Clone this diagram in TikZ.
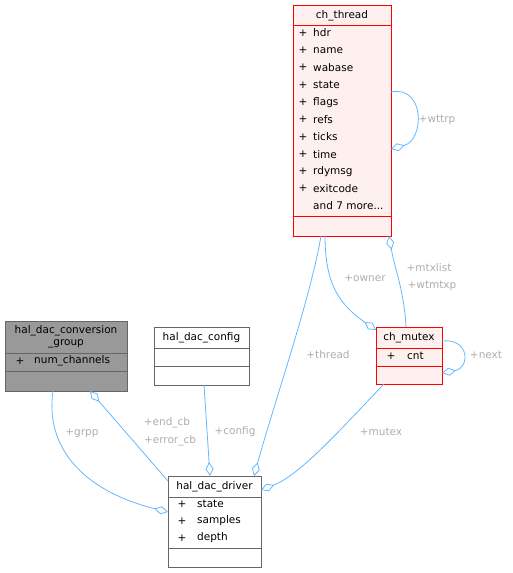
\documentclass[tikz,border=0pt]{standalone}
\usepackage{fontspec}
\setmainfont{DejaVu Sans}
\usetikzlibrary{arrows.meta}
\definecolor{edgeblue}{HTML}{63B8FF}
\definecolor{lblgray}{HTML}{ADADAD}
\definecolor{boxgray}{HTML}{666666}
\definecolor{pinkfill}{HTML}{FFF0F0}
\definecolor{darkfill}{HTML}{999999}
\tikzset{
  every node/.style={font=\fontsize{10.5}{12}\selectfont, inner sep=0pt},
  plainbox/.style={draw=boxgray, fill=white, line width=0.9pt},
  redbox/.style={draw=red, fill=pinkfill, line width=0.9pt},
  greybox/.style={draw=boxgray, fill=darkfill, line width=0.9pt},
  sepline/.style={line width=0.9pt},
  edge/.style={draw=edgeblue, line width=0.8pt},
  dia/.style={edge, {Diamond[open, fill=white, length=14pt, width=8pt]}-},
  lbl/.style={text=lblgray},
}
\begin{document}
\begin{tikzpicture}[x=1pt,y=-1pt]
\useasboundingbox (0,0) rectangle (512,573);

% ---------- ch_thread ----------
\node[redbox, minimum width=98pt, minimum height=231pt] (thr) at (342,120.5) {};
\draw[sepline, red] (293,25.5) -- (391,25.5);
\draw[sepline, red] (293,216.5) -- (391,216.5);
\node (thrt) at (342,15.5) {ch\_thread};
\foreach \n [count=\i] in {hdr,name,wabase,state,flags,refs,ticks,time,rdymsg,exitcode}{
  \node (thrp\i) at (303,33+17.3*\i-17.3) {+};
  \node[anchor=west] (thrn\i) at (313,33+17.3*\i-17.3) {\n};
}
\node[anchor=west] (thrmore) at (313,206) {and 7 more...};

% ---------- hal_dac_conversion_group ----------
\node[greybox, minimum width=122pt, minimum height=70pt] (grp) at (66,356) {};
\draw[sepline, boxgray] (5,353) -- (127,353);
\draw[sepline, boxgray] (5,371) -- (127,371);
\node (grpt1) at (66,331) {hal\_dac\_conversion};
\node (grpt2) at (66,343.5) {\_group};
\node (grpp) at (20,361) {+};
\node[anchor=west] (grpn) at (34,361) {num\_channels};

% ---------- hal_dac_config ----------
\node[plainbox, minimum width=95pt, minimum height=58pt] (cfg) at (201.5,356) {};
\draw[sepline, boxgray] (154,348) -- (249,348);
\draw[sepline, boxgray] (154,366) -- (249,366);
\node (cfgt) at (201.5,338) {hal\_dac\_config};

% ---------- hal_dac_driver ----------
\node[plainbox, minimum width=93pt, minimum height=91pt] (drv) at (214.5,521.5) {};
\draw[sepline, boxgray] (168,497) -- (261,497);
\draw[sepline, boxgray] (168,548) -- (261,548);
\node (drvt) at (214.5,487) {hal\_dac\_driver};
\foreach \n [count=\i] in {state,samples,depth}{
  \node (drvp\i) at (182,504+17*\i-17) {+};
  \node[anchor=west] (drvn\i) at (197,504+17*\i-17) {\n};
}

% ---------- ch_mutex ----------
\node[redbox, minimum width=66pt, minimum height=57pt] (mtx) at (409,355.5) {};
\draw[sepline, red] (376,348) -- (442,348);
\draw[sepline, red] (376,366) -- (442,366);
\node (mtxt) at (409,338) {ch\_mutex};
\node (mtxp) at (391,356) {+};
\node[anchor=west] (mtxn) at (407,356) {cnt};

% ---------- edges ----------
\coordinate (grpB1) at (53,391);
\coordinate (drvL1) at (168,512);
\draw[dia] (drvL1) .. controls (80,490) and (45,445) .. (grpB1);

\coordinate (grpB2) at (90,391);
\coordinate (drvTL) at (168,481);
\draw[dia] (grpB2) -- (drvTL);

\coordinate (cfgB) at (204,385);
\coordinate (drvT) at (210,476);
\draw[dia] (drvT) -- (cfgB);

\coordinate (thrB1) at (321,236);
\coordinate (drvTR) at (254,476);
\draw[dia] (drvTR) .. controls (275,400) and (310,300) .. (thrB1);

\coordinate (mtxBL) at (384,384);
\coordinate (drvR) at (261,490);
\draw[dia] (drvR) .. controls (300,475) and (340,430) .. (mtxBL);

\coordinate (thrB2) at (325,236);
\coordinate (mtxL) at (376,330);
\draw[dia] (mtxL) .. controls (340,305) and (325,285) .. (thrB2);

\coordinate (thrB3) at (389,236);
\coordinate (mtxT) at (406,327);
\draw[dia] (thrB3) .. controls (395,270) and (404,290) .. (mtxT);

\coordinate (thrR1) at (391,92);
\coordinate (thrR2) at (391,149);
\draw[dia] (thrR2) .. controls (425,140) and (425,85) .. (thrR1);

\coordinate (mtxR1) at (442,341);
\coordinate (mtxR2) at (442,373);
\draw[dia] (mtxR2) .. controls (470,368) and (470,338) .. (mtxR1);

% ---------- labels ----------
\node[lbl] (lwttrp) at (437,120) {+wttrp};
\node[lbl] (lmtx1) at (429,268) {+mtxlist};
\node[lbl] (lmtx2) at (432,285.5) {+wtmtxp};
\node[lbl] (lowner) at (365,278) {+owner};
\node[lbl] (lthread) at (328,355) {+thread};
\node[lbl] (lnext) at (486,355) {+next};
\node[lbl] (lmutex) at (381,432) {+mutex};
\node[lbl] (lgrpp) at (82,433) {+grpp};
\node[lbl] (lend) at (167,423) {+end\_cb};
\node[lbl] (lerr) at (170,440.5) {+error\_cb};
\node[lbl] (lcfg) at (235,432) {+config};
\end{tikzpicture}
\end{document}
